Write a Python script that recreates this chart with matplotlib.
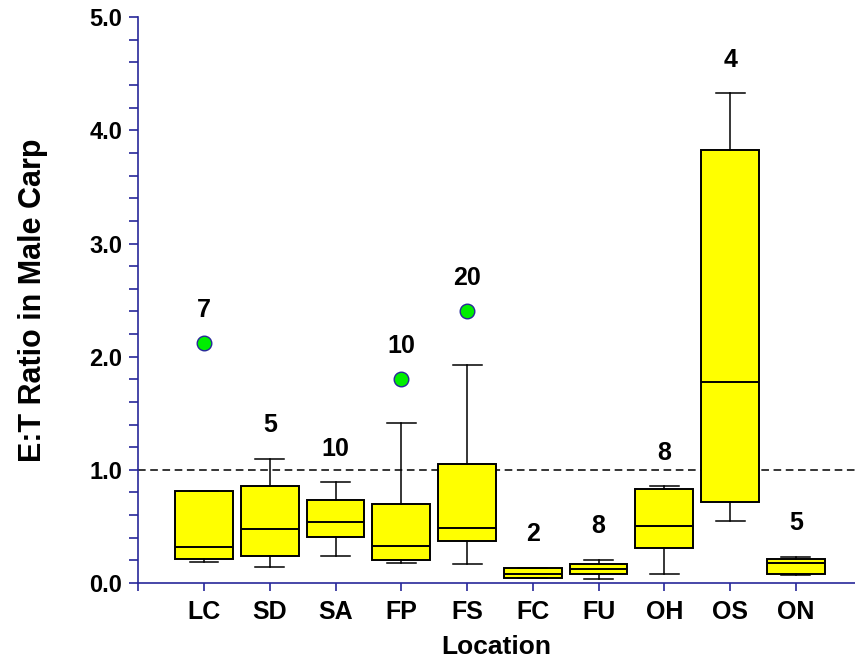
import matplotlib
matplotlib.use("Agg")
import matplotlib.pyplot as plt
from matplotlib.ticker import MultipleLocator, FormatStrFormatter, FixedLocator

plt.rcParams['font.family'] = ['Liberation Sans', 'DejaVu Sans']
plt.rcParams['font.weight'] = 'bold'

# values
locations = ['LC', 'SD', 'SA', 'FP', 'FS', 'FC', 'FU', 'OH', 'OS', 'ON']
n_samples = [7, 5, 10, 10, 20, 2, 8, 8, 4, 5]
whisker_lo = [0.19, 0.14, 0.24, 0.18, 0.17, 0.04, 0.035, 0.08, 0.55, 0.07]
q1 = [0.215, 0.24, 0.41, 0.20, 0.37, 0.04, 0.08, 0.31, 0.72, 0.08]
medians = [0.32, 0.475, 0.54, 0.33, 0.49, 0.077, 0.124, 0.50, 1.78, 0.18]
q3 = [0.81, 0.86, 0.73, 0.70, 1.05, 0.135, 0.168, 0.83, 3.83, 0.21]
whisker_hi = [0.81, 1.10, 0.89, 1.41, 1.93, 0.135, 0.206, 0.857, 4.33, 0.232]
outliers = [[2.12], [], [], [1.80], [2.40], [], [], [], [], []]

axis_color = '#28289a'

stats = []
for i, name in enumerate(locations):
    stats.append(dict(label=name, whislo=whisker_lo[i], q1=q1[i], med=medians[i],
                      q3=q3[i], whishi=whisker_hi[i], fliers=outliers[i]))

fig = plt.figure(figsize=(8.55, 6.61), dpi=100)
ax = fig.add_axes([0.1617, 0.118, 0.8383, 0.856])

positions = list(range(1, len(locations) + 1))
ax.bxp(stats, positions=positions, widths=0.88, capwidths=0.44,
       patch_artist=True, manage_ticks=False,
       boxprops=dict(facecolor='#ffff00', edgecolor='black', linewidth=1.4),
       medianprops=dict(color='black', linewidth=1.4),
       whiskerprops=dict(color='black', linewidth=1.1),
       capprops=dict(color='black', linewidth=1.1),
       flierprops=dict(marker='o', markerfacecolor='#00ee00',
                       markeredgecolor=axis_color, markersize=10.5,
                       markeredgewidth=1.0))

ax.axhline(1.0, color='black', linewidth=1.1, linestyle=(0, (5, 3)), zorder=0)

# sample counts above each box
for i, pos in enumerate(positions):
    top = max([whisker_hi[i]] + outliers[i])
    ax.text(pos, top + 0.19, str(n_samples[i]), ha='center', va='bottom',
            fontsize=18, fontweight='bold')

ax.set_xlim(0, 10.9)
ax.set_ylim(0, 5.0)

ax.xaxis.set_major_locator(FixedLocator([0] + positions))
ax.set_xticklabels([''] + locations)
ax.yaxis.set_major_locator(MultipleLocator(1.0))
ax.yaxis.set_minor_locator(MultipleLocator(0.2))
ax.yaxis.set_major_formatter(FormatStrFormatter('%.1f'))

for side in ['top', 'right']:
    ax.spines[side].set_visible(False)
for side in ['left', 'bottom']:
    ax.spines[side].set_color(axis_color)
    ax.spines[side].set_linewidth(1.2)

ax.tick_params(axis='x', which='major', direction='out', length=6,
               width=1.2, color=axis_color, labelsize=18, pad=6)
ax.tick_params(axis='y', which='both', direction='out', length=6.5,
               width=1.2, color=axis_color, labelsize=17, pad=5)

ax.set_xlabel('Location', fontsize=19, fontweight='bold', labelpad=8)
ax.set_ylabel('E:T Ratio in Male Carp', fontsize=22, fontweight='bold', labelpad=30)

fig.savefig('out.png', dpi=100)
